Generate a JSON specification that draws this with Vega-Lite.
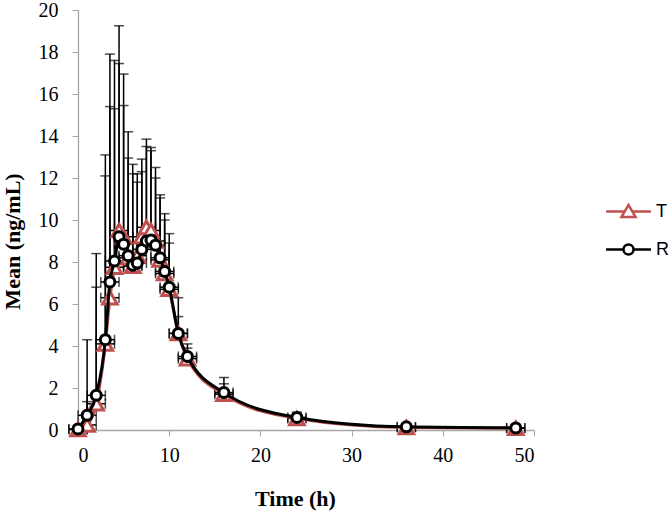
{
  "$schema": "https://vega.github.io/schema/vega-lite/v6.json",
  "width": 456,
  "height": 420,
  "autosize": "none",
  "padding": {"left": 78, "top": 10, "right": 135, "bottom": 81},
  "background": "white",
  "config": {
    "view": {"stroke": null},
    "axis": {
      "grid": false,
      "domainColor": "#a6a6a6",
      "domainWidth": 1.3,
      "tickColor": "#a6a6a6",
      "tickSize": 6,
      "labelFont": "Liberation Serif",
      "labelFontSize": 20,
      "labelColor": "#000000",
      "titleFont": "Liberation Serif",
      "titleFontWeight": "bold",
      "titleColor": "#000000"
    }
  },
  "data": {
    "values": [
      {"s": "T", "t": 0, "m": 0.02, "hi": 0.15, "xe": 1},
      {"s": "T", "t": 1, "m": 0.24, "hi": 4.3, "xe": 1},
      {"s": "T", "t": 2, "m": 1.25, "hi": 8.4, "xe": 1},
      {"s": "T", "t": 3, "m": 4.1, "hi": 13.1, "xe": 1},
      {"s": "T", "t": 3.5, "m": 6.3, "hi": 17.9, "xe": 1},
      {"s": "T", "t": 4, "m": 7.75, "hi": 17.6, "xe": 1},
      {"s": "T", "t": 4.5, "m": 9.5, "hi": 19.25, "xe": 1},
      {"s": "T", "t": 5, "m": 9.2, "hi": 16.95, "xe": 1},
      {"s": "T", "t": 5.5, "m": 8.2, "hi": 14.2, "xe": 1},
      {"s": "T", "t": 6, "m": 7.8, "hi": 12.65, "xe": 1},
      {"s": "T", "t": 6.5, "m": 8.3, "hi": 12.2, "xe": 1},
      {"s": "T", "t": 7, "m": 9.2, "hi": 12.9, "xe": 1},
      {"s": "T", "t": 7.5, "m": 9.65, "hi": 13.85, "xe": 1},
      {"s": "T", "t": 8, "m": 9.5, "hi": 13.45, "xe": 1},
      {"s": "T", "t": 8.5, "m": 9.0, "hi": 12.5, "xe": 1},
      {"s": "T", "t": 9, "m": 8.1, "hi": 11.2, "xe": 1},
      {"s": "T", "t": 9.5, "m": 7.45, "hi": 10.3, "xe": 1},
      {"s": "T", "t": 10, "m": 6.7, "hi": 9.35, "xe": 1},
      {"s": "T", "t": 11, "m": 4.6, "hi": 6.3, "xe": 1},
      {"s": "T", "t": 12, "m": 3.4, "hi": 4.1, "xe": 1},
      {"s": "T", "t": 16, "m": 1.7, "hi": 2.5, "xe": 1},
      {"s": "T", "t": 24, "m": 0.55, "hi": 0.85, "xe": 1},
      {"s": "T", "t": 36, "m": 0.12, "hi": 0.3, "xe": 1},
      {"s": "T", "t": 48, "m": 0.08, "hi": 0.25, "xe": 1},
      {"s": "R", "t": 0, "m": 0.05, "hi": 0.1, "xe": 1},
      {"s": "R", "t": 1, "m": 0.7, "hi": 1.35, "xe": 1},
      {"s": "R", "t": 2, "m": 1.65, "hi": 6.8, "xe": 1},
      {"s": "R", "t": 3, "m": 4.3, "hi": 12.1, "xe": 1},
      {"s": "R", "t": 3.5, "m": 7.05, "hi": 15.4, "xe": 1},
      {"s": "R", "t": 4, "m": 8.05, "hi": 15.3, "xe": 1},
      {"s": "R", "t": 4.5, "m": 9.2, "hi": 17.45, "xe": 1},
      {"s": "R", "t": 5, "m": 8.85, "hi": 15.45, "xe": 1},
      {"s": "R", "t": 5.5, "m": 8.3, "hi": 12.95, "xe": 1},
      {"s": "R", "t": 6, "m": 7.85, "hi": 12.2, "xe": 1},
      {"s": "R", "t": 6.5, "m": 7.95, "hi": 11.8, "xe": 1},
      {"s": "R", "t": 7, "m": 8.6, "hi": 12.3, "xe": 1},
      {"s": "R", "t": 7.5, "m": 9.0, "hi": 13.5, "xe": 1},
      {"s": "R", "t": 8, "m": 9.05, "hi": 13.3, "xe": 1},
      {"s": "R", "t": 8.5, "m": 8.8, "hi": 12.0, "xe": 1},
      {"s": "R", "t": 9, "m": 8.2, "hi": 11.05, "xe": 1},
      {"s": "R", "t": 9.5, "m": 7.55, "hi": 10.0, "xe": 1},
      {"s": "R", "t": 10, "m": 6.8, "hi": 8.9, "xe": 1},
      {"s": "R", "t": 11, "m": 4.6, "hi": 5.4, "xe": 1},
      {"s": "R", "t": 12, "m": 3.5, "hi": 3.9, "xe": 1},
      {"s": "R", "t": 16, "m": 1.78, "hi": 2.2, "xe": 1},
      {"s": "R", "t": 24, "m": 0.6, "hi": 0.75, "xe": 1},
      {"s": "R", "t": 36, "m": 0.15, "hi": 0.25, "xe": 1},
      {"s": "R", "t": 48, "m": 0.1, "hi": 0.2, "xe": 1}
    ]
  },
  "encoding": {
    "x": {
      "field": "t",
      "type": "quantitative",
      "scale": {"domain": [0, 50], "nice": false, "zero": false},
      "axis": {
        "title": "Time (h)",
        "values": [0, 10, 20, 30, 40, 50],
        "labelPadding": 9,
        "titleFontSize": 22,
        "titleX": 217,
        "titleY": 75,
        "titleBaseline": "alphabetic",
        "titleAlign": "center"
      }
    }
  },
  "layer": [
    {
      "mark": {"type": "errorbar", "color": "black", "thickness": 1.5, "ticks": {"size": 10, "thickness": 1.5, "color": "black"}},
      "encoding": {
        "x": {"field": "t", "type": "quantitative"},
        "xError": {"field": "xe"},
        "y": {"field": "m", "type": "quantitative"}
      }
    },
    {
      "mark": {"type": "rule", "color": "black", "strokeWidth": 1.5},
      "encoding": {
        "y": {"field": "m", "type": "quantitative"},
        "y2": {"field": "hi"}
      }
    },
    {
      "mark": {"type": "tick", "orient": "horizontal", "color": "black", "thickness": 1.5, "size": 10},
      "encoding": {
        "y": {"field": "hi", "type": "quantitative"}
      }
    },
    {
      "transform": [{"filter": "datum.s === 'T'"}],
      "mark": {"type": "line", "interpolate": "monotone", "strokeWidth": 3, "color": "#c0504d"},
      "encoding": {
        "y": {"field": "m", "type": "quantitative"}
      }
    },
    {
      "transform": [{"filter": "datum.s === 'T'"}],
      "mark": {"type": "point", "shape": "triangle-up", "filled": true, "fill": "white", "stroke": "#c0504d", "strokeWidth": 3, "opacity": 1, "size": 210},
      "encoding": {
        "y": {"field": "m", "type": "quantitative"}
      }
    },
    {
      "transform": [{"filter": "datum.s === 'R'"}],
      "mark": {"type": "line", "interpolate": "monotone", "strokeWidth": 3, "color": "#000000"},
      "encoding": {
        "y": {"field": "m", "type": "quantitative"}
      }
    },
    {
      "transform": [{"filter": "datum.s === 'R'"}],
      "mark": {"type": "point", "shape": "circle", "filled": true, "fill": "white", "stroke": "#000000", "strokeWidth": 3, "opacity": 1, "size": 100},
      "encoding": {
        "y": {
          "field": "m",
          "type": "quantitative",
          "scale": {"domain": [0, 20], "nice": false},
          "axis": {
            "title": "Mean (ng/mL)",
            "values": [0, 2, 4, 6, 8, 10, 12, 14, 16, 18, 20],
            "labelPadding": 14,
            "titleFontSize": 22,
            "titleX": -59,
            "titleY": 231,
            "titleAngle": -90,
            "titleBaseline": "alphabetic",
            "titleAlign": "center"
          }
        }
      }
    },
    {
      "transform": [{"filter": "datum.t < 0"}],
      "mark": {"type": "point", "filled": false, "strokeWidth": 2.5, "opacity": 1},
      "encoding": {
        "y": {"field": "m", "type": "quantitative"},
        "shape": {
          "field": "s",
          "type": "nominal",
          "scale": {
            "domain": ["T", "R"],
            "range": [
              "M-1.12,0L-0.2,0M0.2,0L1.12,0M-0.35,0.27L0,-0.33L0.35,0.27Z",
              "M-1.12,0L-0.25,0M0.25,0L1.12,0M-0.25,0A0.25,0.25 0 1,1 0.25,0A0.25,0.25 0 1,1 -0.25,0Z"
            ]
          },
          "legend": {
            "title": null,
            "orient": "none",
            "legendX": 529,
            "legendY": 180,
            "padding": 0,
            "rowPadding": 6,
            "labelFont": "Liberation Sans",
            "labelFontSize": 18,
            "labelColor": "#000000",
            "labelOffset": 6,
            "symbolSize": 1600,
            "symbolStrokeWidth": 2.5,
            "symbolFillColor": "white"
          }
        },
        "stroke": {
          "field": "s",
          "type": "nominal",
          "scale": {"domain": ["T", "R"], "range": ["#c0504d", "#000000"]}
        }
      }
    }
  ]
}
